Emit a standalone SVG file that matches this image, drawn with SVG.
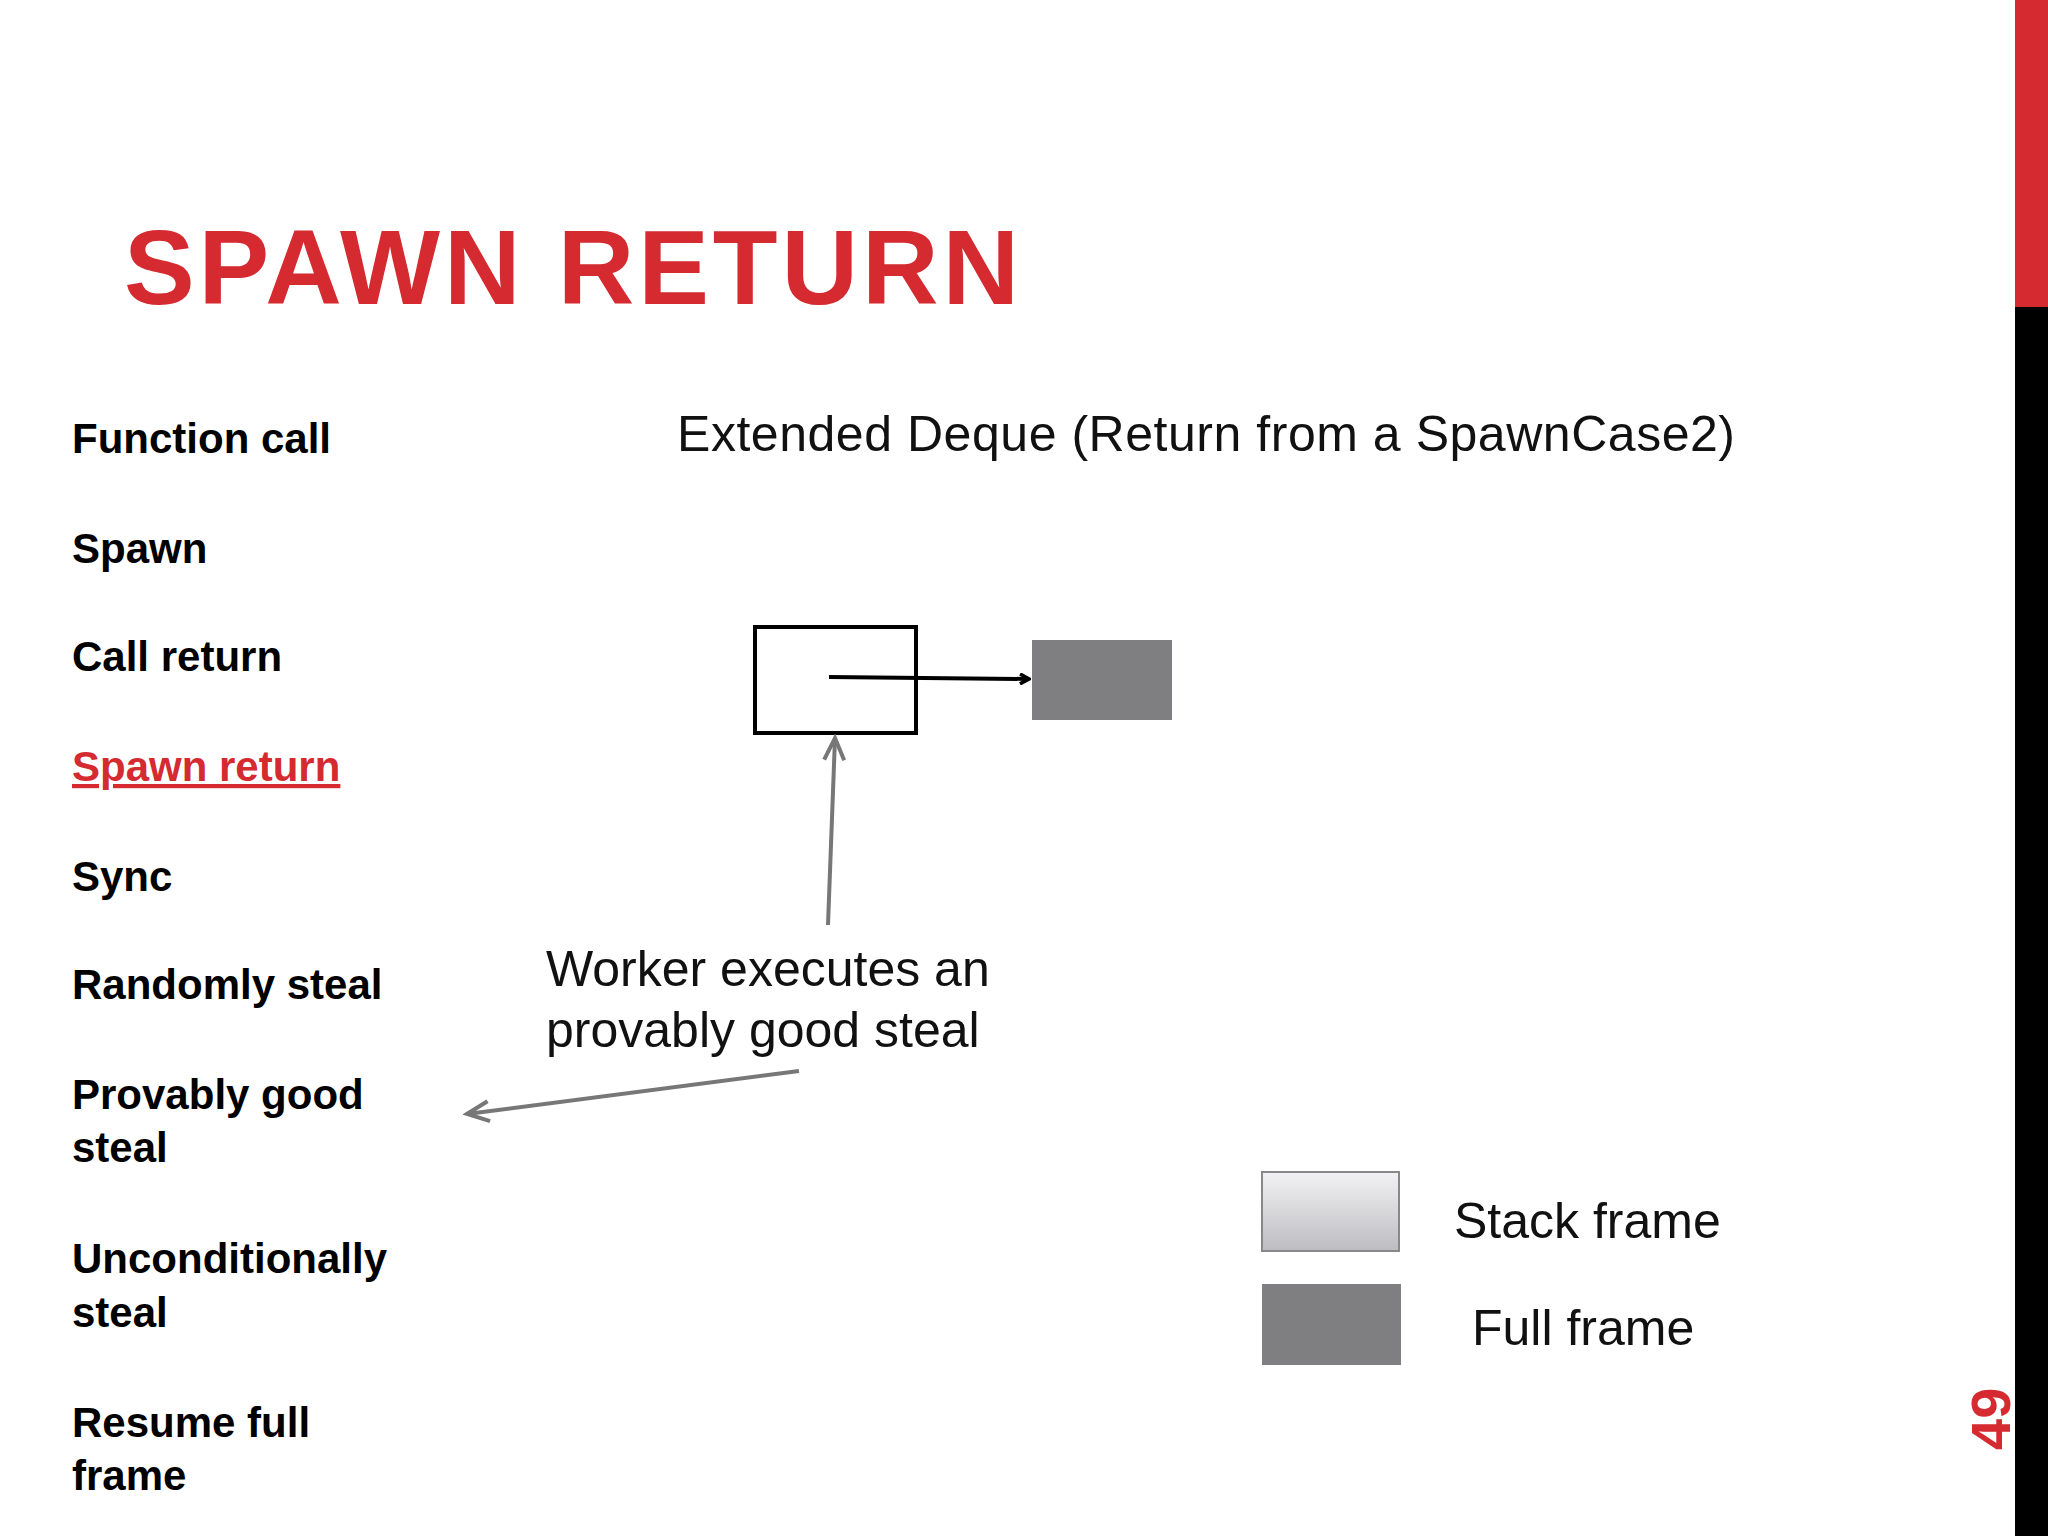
<svg xmlns="http://www.w3.org/2000/svg" width="2048" height="1536" viewBox="0 0 2048 1536">
<style>
.m{font-family:"Liberation Sans",Arial,sans-serif;font-weight:bold;font-size:42px;fill:#000}
.t{font-family:"Liberation Sans",Arial,sans-serif;font-size:50px;fill:#111}
</style>
<defs>
<marker id="ak" markerWidth="12" markerHeight="12" refX="10" refY="6" orient="auto" markerUnits="userSpaceOnUse" viewBox="0 0 12 12"><path d="M1,1 L10,6 L1,11" fill="none" stroke="#000" stroke-width="3.5"/></marker>
<marker id="ag" markerWidth="30" markerHeight="30" refX="26" refY="15" orient="auto" markerUnits="userSpaceOnUse" viewBox="0 0 30 30"><path d="M4,5 L26,15 L4,25" fill="none" stroke="#777" stroke-width="4"/></marker>
<linearGradient id="lg" x1="0" y1="0" x2="0" y2="1"><stop offset="0" stop-color="#f2f2f4"/><stop offset="1" stop-color="#bdbcc0"/></linearGradient>
</defs>
<rect width="2048" height="1536" fill="#fff"/>
<rect x="2015" y="0" width="33" height="307" fill="#d42a30"/>
<rect x="2015" y="307" width="33" height="1229" fill="#000"/>
<text x="2010" y="1450" transform="rotate(-90 2010 1450)" font-family="Liberation Sans,Arial,sans-serif" font-weight="bold" font-size="56" fill="#d42a30">49</text>
<text x="124" y="304" font-family="Liberation Sans,Arial,sans-serif" font-weight="bold" font-size="106" fill="#d42a30" textLength="895">SPAWN RETURN</text>
<g id="menu">
<text class="m" x="72" y="453">Function call</text>
<text class="m" x="72" y="563">Spawn</text>
<text class="m" x="72" y="671">Call return</text>
<text class="m" x="72" y="781" style="fill:#d42a30;text-decoration:underline">Spawn return</text>
<text class="m" x="72" y="891">Sync</text>
<text class="m" x="72" y="999">Randomly steal</text>
<text class="m" x="72" y="1109">Provably good</text>
<text class="m" x="72" y="1162">steal</text>
<text class="m" x="72" y="1273">Unconditionally</text>
<text class="m" x="72" y="1327">steal</text>
<text class="m" x="72" y="1437">Resume full</text>
<text class="m" x="72" y="1490">frame</text>
</g>
<text class="t" x="677" y="451" textLength="1058">Extended Deque (Return from a SpawnCase2)</text>
<g id="stack"><rect x="755" y="627" width="161" height="106" fill="#fff" stroke="#000" stroke-width="4"/></g>
<g id="full"><rect x="1032" y="640" width="140" height="80" fill="#7f7e80"/></g>
<g id="label"><text class="t" x="546" y="986">Worker executes an</text><text class="t" x="546" y="1047">provably good steal</text></g>
<g id="connectors">
<line x1="829" y1="677" x2="1029" y2="679" stroke="#000" stroke-width="4" marker-end="url(#ak)"/>
<line x1="828" y1="925" x2="835" y2="738" stroke="#777" stroke-width="4" marker-end="url(#ag)"/>
<line x1="799" y1="1071" x2="467" y2="1114" stroke="#777" stroke-width="4" marker-end="url(#ag)"/>
</g>
<g id="legend">
<rect x="1262" y="1172" width="137" height="79" fill="url(#lg)" stroke="#888" stroke-width="2"/>
<rect x="1262" y="1284" width="139" height="81" fill="#7f7e80"/>
<text class="t" x="1454" y="1238">Stack frame</text>
<text class="t" x="1472" y="1345">Full frame</text>
</g>
</svg>
